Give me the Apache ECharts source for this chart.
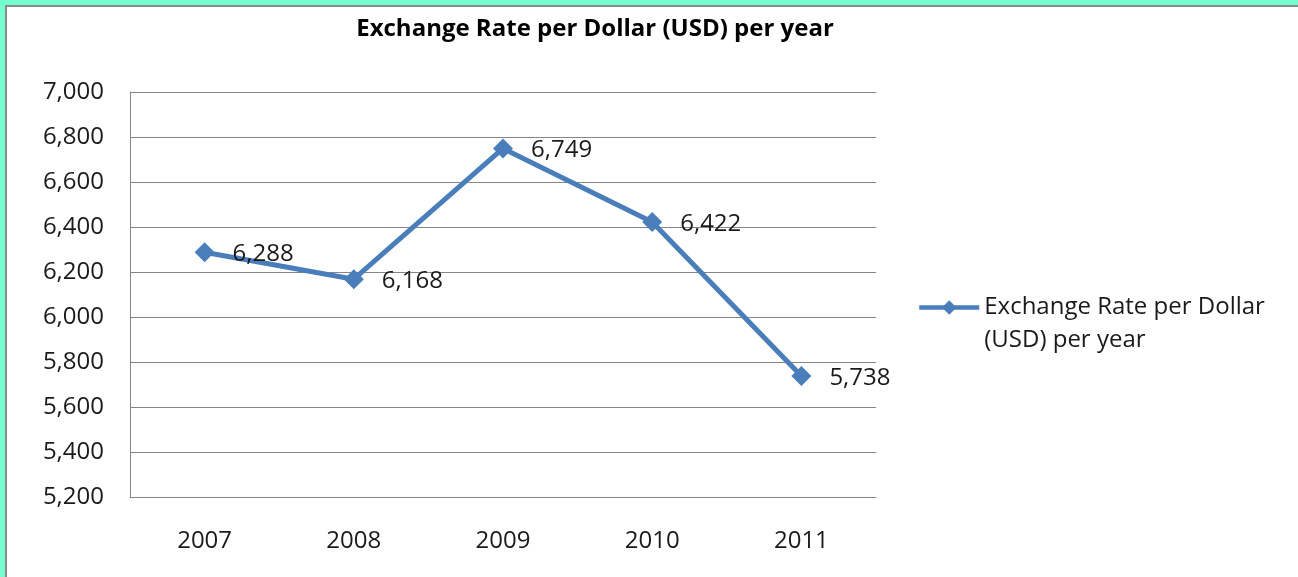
<!DOCTYPE html>
<html>
<head>
<meta charset="utf-8">
<script src="https://cdn.jsdelivr.net/npm/echarts@6/dist/echarts.min.js"></script>
<style>
html,body{margin:0;padding:0;background:#fff;}
#chart{width:1298px;height:577px;}
</style>
</head>
<body>
<div id="chart"></div>
<script>
const titleText = 'Exchange Rate per Dollar (USD) per year';
const seriesName = 'Exchange Rate per Dollar (USD) per year';
const legendLines = ['Exchange Rate per Dollar', '(USD) per year'];
const years = ['2007', '2008', '2009', '2010', '2011'];
const rates = [6288, 6168, 6749, 6422, 5738];
const yMin = 5200, yMax = 7000, yStep = 200;

const fmt = v => Number(v).toLocaleString('en-US');
const FONT = '"Open Sans", "Noto Sans", sans-serif';
const chart = echarts.init(document.getElementById('chart'), null, {renderer: 'canvas'});
chart.setOption({
  animation: false,
  backgroundColor: '#ffffff',
  title: {
    text: titleText,
    left: 590, top: 12, textAlign: 'center',
    textStyle: {fontFamily: FONT, fontSize: 24, fontWeight: 'bold', color: '#000'}
  },
  grid: {left: 130, right: 422, top: 92, bottom: 80, containLabel: false},
  xAxis: {
    type: 'category', data: years, boundaryGap: true,
    axisLine: {lineStyle: {color: '#868686', width: 1}},
    axisTick: {show: false},
    axisLabel: {fontFamily: FONT, fontSize: 24, color: '#1a1a1a', margin: 32}
  },
  yAxis: {
    type: 'value', min: yMin, max: yMax, interval: yStep,
    axisLine: {show: true, lineStyle: {color: '#868686', width: 1}},
    axisTick: {show: false},
    splitLine: {lineStyle: {color: '#868686', width: 1}},
    axisLabel: {fontFamily: FONT, fontSize: 24, color: '#1a1a1a', margin: 26, formatter: fmt}
  },
  legend: {
    show: true, orient: 'vertical', left: 912, top: 253,
    itemWidth: 60, itemHeight: 18, itemGap: 10,
    lineStyle: {width: 4.5},
    formatter: () => ' \n' + legendLines.join('\n'),
    textStyle: {fontFamily: FONT, fontSize: 24, color: '#1a1a1a', lineHeight: 33},
    data: [{name: seriesName}]
  },
  series: [{
    name: seriesName, type: 'line', data: rates,
    symbol: 'diamond', symbolSize: 20,
    lineStyle: {color: '#4A7EBB', width: 5},
    itemStyle: {color: '#4A7EBB'},
    label: {
      show: true, position: 'right', distance: 18, offset: [0, 2],
      fontFamily: FONT, fontSize: 24, color: '#1a1a1a',
      formatter: p => fmt(p.value)
    }
  }],
  graphic: [
    {type: 'rect', shape: {x: 0, y: 0, width: 1298, height: 5}, style: {fill: '#72FFCD'}, silent: true},
    {type: 'rect', shape: {x: 0, y: 0, width: 5, height: 577}, style: {fill: '#72FFCD'}, silent: true},
    {type: 'rect', shape: {x: 5, y: 5, width: 1293, height: 2}, style: {fill: '#8a8a8a'}, silent: true},
    {type: 'rect', shape: {x: 5, y: 5, width: 2, height: 572}, style: {fill: '#8a8a8a'}, silent: true}
  ]
});
</script>
</body>
</html>
